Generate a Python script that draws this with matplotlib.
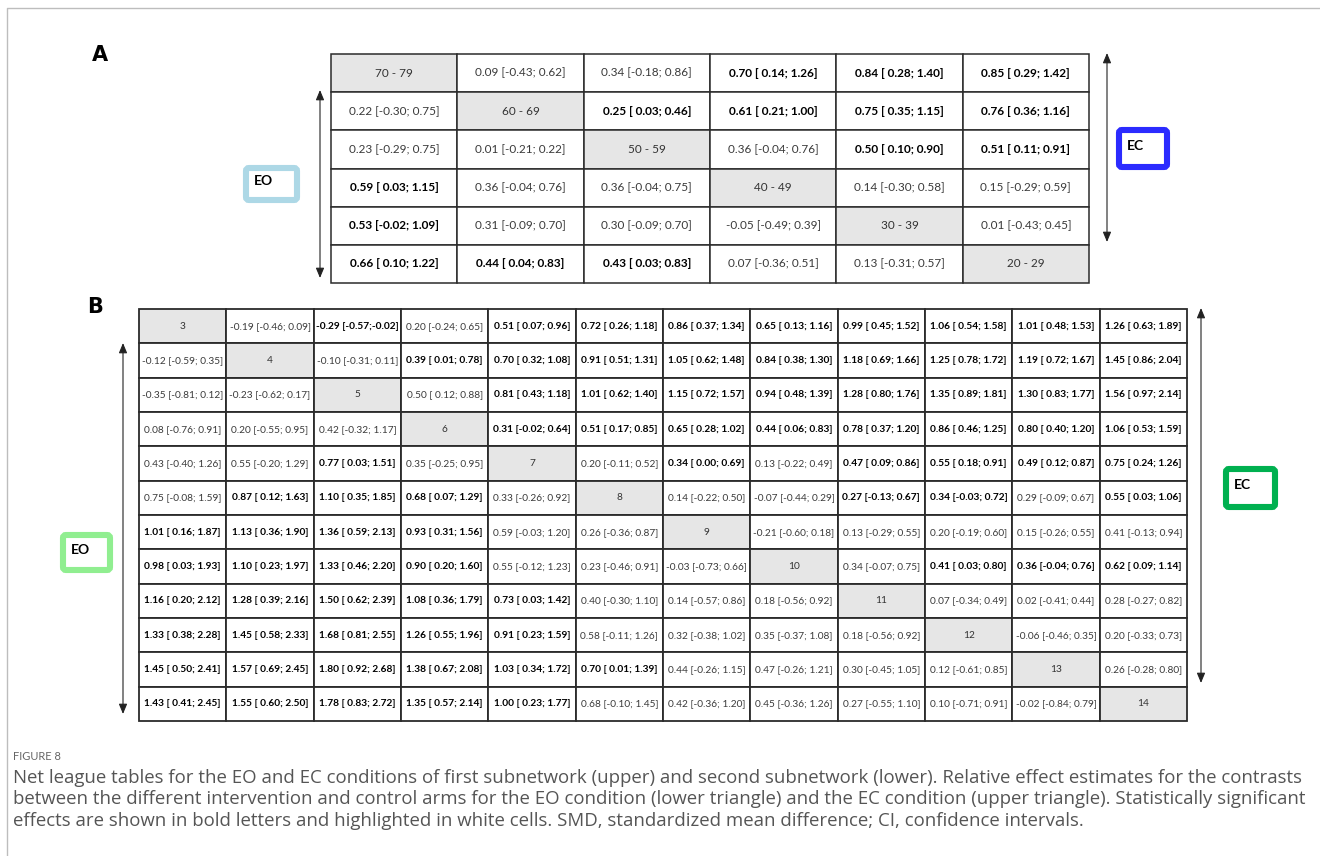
import numpy as np
import matplotlib
matplotlib.use("Agg")
import matplotlib.pyplot as plt
from matplotlib.patches import Rectangle, FancyBboxPatch

# ---- first subnetwork (age groups), EC above diagonal, EO below ----
A_LABELS = ["70 - 79", "60 - 69", "50 - 59", "40 - 49", "30 - 39", "20 - 29"]
A_EST = [
    [None, 0.09, 0.34, 0.70, 0.84, 0.85],
    [0.22, None, 0.25, 0.61, 0.75, 0.76],
    [0.23, 0.01, None, 0.36, 0.50, 0.51],
    [0.59, 0.36, 0.36, None, 0.14, 0.15],
    [0.53, 0.31, 0.30, -0.05, None, 0.01],
    [0.66, 0.44, 0.43, 0.07, 0.13, None],
]
A_LO = [
    [None, -0.43, -0.18, 0.14, 0.28, 0.29],
    [-0.30, None, 0.03, 0.21, 0.35, 0.36],
    [-0.29, -0.21, None, -0.04, 0.10, 0.11],
    [0.03, -0.04, -0.04, None, -0.30, -0.29],
    [-0.02, -0.09, -0.09, -0.49, None, -0.43],
    [0.10, 0.04, 0.03, -0.36, -0.31, None],
]
A_HI = [
    [None, 0.62, 0.86, 1.26, 1.40, 1.42],
    [0.75, None, 0.46, 1.00, 1.15, 1.16],
    [0.75, 0.22, None, 0.76, 0.90, 0.91],
    [1.15, 0.76, 0.75, None, 0.58, 0.59],
    [1.09, 0.70, 0.70, 0.39, None, 0.45],
    [1.22, 0.83, 0.83, 0.51, 0.57, None],
]
A_SIG = [
    [0, 0, 0, 1, 1, 1],
    [0, 0, 1, 1, 1, 1],
    [0, 0, 0, 0, 1, 1],
    [1, 0, 0, 0, 0, 0],
    [1, 0, 0, 0, 0, 0],
    [1, 1, 1, 0, 0, 0],
]

# ---- second subnetwork (arms 3..14) ----
B_LABELS = [str(k) for k in range(3, 15)]
B_EST = [
    [None, -0.19, -0.29, 0.20, 0.51, 0.72, 0.86, 0.65, 0.99, 1.06, 1.01, 1.26],
    [-0.12, None, -0.10, 0.39, 0.70, 0.91, 1.05, 0.84, 1.18, 1.25, 1.19, 1.45],
    [-0.35, -0.23, None, 0.50, 0.81, 1.01, 1.15, 0.94, 1.28, 1.35, 1.30, 1.56],
    [0.08, 0.20, 0.42, None, 0.31, 0.51, 0.65, 0.44, 0.78, 0.86, 0.80, 1.06],
    [0.43, 0.55, 0.77, 0.35, None, 0.20, 0.34, 0.13, 0.47, 0.55, 0.49, 0.75],
    [0.75, 0.87, 1.10, 0.68, 0.33, None, 0.14, -0.07, 0.27, 0.34, 0.29, 0.55],
    [1.01, 1.13, 1.36, 0.93, 0.59, 0.26, None, -0.21, 0.13, 0.20, 0.15, 0.41],
    [0.98, 1.10, 1.33, 0.90, 0.55, 0.23, -0.03, None, 0.34, 0.41, 0.36, 0.62],
    [1.16, 1.28, 1.50, 1.08, 0.73, 0.40, 0.14, 0.18, None, 0.07, 0.02, 0.28],
    [1.33, 1.45, 1.68, 1.26, 0.91, 0.58, 0.32, 0.35, 0.18, None, -0.06, 0.20],
    [1.45, 1.57, 1.80, 1.38, 1.03, 0.70, 0.44, 0.47, 0.30, 0.12, None, 0.26],
    [1.43, 1.55, 1.78, 1.35, 1.00, 0.68, 0.42, 0.45, 0.27, 0.10, -0.02, None],
]
B_LO = [
    [None, -0.46, -0.57, -0.24, 0.07, 0.26, 0.37, 0.13, 0.45, 0.54, 0.48, 0.63],
    [-0.59, None, -0.31, 0.01, 0.32, 0.51, 0.62, 0.38, 0.69, 0.78, 0.72, 0.86],
    [-0.81, -0.62, None, 0.12, 0.43, 0.62, 0.72, 0.48, 0.80, 0.89, 0.83, 0.97],
    [-0.76, -0.55, -0.32, None, -0.02, 0.17, 0.28, 0.06, 0.37, 0.46, 0.40, 0.53],
    [-0.40, -0.20, 0.03, -0.25, None, -0.11, 0.00, -0.22, 0.09, 0.18, 0.12, 0.24],
    [-0.08, 0.12, 0.35, 0.07, -0.26, None, -0.22, -0.44, -0.13, -0.03, -0.09, 0.03],
    [0.16, 0.36, 0.59, 0.31, -0.03, -0.36, None, -0.60, -0.29, -0.19, -0.26, -0.13],
    [0.03, 0.23, 0.46, 0.20, -0.12, -0.46, -0.73, None, -0.07, 0.03, -0.04, 0.09],
    [0.20, 0.39, 0.62, 0.36, 0.03, -0.30, -0.57, -0.56, None, -0.34, -0.41, -0.27],
    [0.38, 0.58, 0.81, 0.55, 0.23, -0.11, -0.38, -0.37, -0.56, None, -0.46, -0.33],
    [0.50, 0.69, 0.92, 0.67, 0.34, 0.01, -0.26, -0.26, -0.45, -0.61, None, -0.28],
    [0.41, 0.60, 0.83, 0.57, 0.23, -0.10, -0.36, -0.36, -0.55, -0.71, -0.84, None],
]
B_HI = [
    [None, 0.09, -0.02, 0.65, 0.96, 1.18, 1.34, 1.16, 1.52, 1.58, 1.53, 1.89],
    [0.35, None, 0.11, 0.78, 1.08, 1.31, 1.48, 1.30, 1.66, 1.72, 1.67, 2.04],
    [0.12, 0.17, None, 0.88, 1.18, 1.40, 1.57, 1.39, 1.76, 1.81, 1.77, 2.14],
    [0.91, 0.95, 1.17, None, 0.64, 0.85, 1.02, 0.83, 1.20, 1.25, 1.20, 1.59],
    [1.26, 1.29, 1.51, 0.95, None, 0.52, 0.69, 0.49, 0.86, 0.91, 0.87, 1.26],
    [1.59, 1.63, 1.85, 1.29, 0.92, None, 0.50, 0.29, 0.67, 0.72, 0.67, 1.06],
    [1.87, 1.90, 2.13, 1.56, 1.20, 0.87, None, 0.18, 0.55, 0.60, 0.55, 0.94],
    [1.93, 1.97, 2.20, 1.60, 1.23, 0.91, 0.66, None, 0.75, 0.80, 0.76, 1.14],
    [2.12, 2.16, 2.39, 1.79, 1.42, 1.10, 0.86, 0.92, None, 0.49, 0.44, 0.82],
    [2.28, 2.33, 2.55, 1.96, 1.59, 1.26, 1.02, 1.08, 0.92, None, 0.35, 0.73],
    [2.41, 2.45, 2.68, 2.08, 1.72, 1.39, 1.15, 1.21, 1.05, 0.85, None, 0.80],
    [2.45, 2.50, 2.72, 2.14, 1.77, 1.45, 1.20, 1.26, 1.10, 0.91, 0.79, None],
]
B_SIG = [
    [0, 0, 1, 0, 1, 1, 1, 1, 1, 1, 1, 1],
    [0, 0, 0, 1, 1, 1, 1, 1, 1, 1, 1, 1],
    [0, 0, 0, 0, 1, 1, 1, 1, 1, 1, 1, 1],
    [0, 0, 0, 0, 1, 1, 1, 1, 1, 1, 1, 1],
    [0, 0, 1, 0, 0, 0, 1, 0, 1, 1, 1, 1],
    [0, 1, 1, 1, 0, 0, 0, 0, 1, 1, 0, 1],
    [1, 1, 1, 1, 0, 0, 0, 0, 0, 0, 0, 0],
    [1, 1, 1, 1, 0, 0, 0, 0, 0, 1, 1, 1],
    [1, 1, 1, 1, 1, 0, 0, 0, 0, 0, 0, 0],
    [1, 1, 1, 1, 1, 0, 0, 0, 0, 0, 0, 0],
    [1, 1, 1, 1, 1, 1, 0, 0, 0, 0, 0, 0],
    [1, 1, 1, 1, 1, 0, 0, 0, 0, 0, 0, 0],
]

CAPTION_HEAD = "FIGURE 8"
CAPTION_LINES = [
    "Net league tables for the EO and EC conditions of first subnetwork (upper) and second subnetwork (lower). "
    "Relative effect estimates for the contrasts",
    "between the different intervention and control arms for the EO condition (lower triangle) and the EC "
    "condition (upper triangle). Statistically significant",
    "effects are shown in bold letters and highlighted in white cells. SMD, standardized mean difference; "
    "CI, confidence intervals.",
]

CELL_FONT = "Lato"
DIAG_FILL = "#e6e6e6"
GRID = "#2b2b2b"


def fmt_cell(est, lo, hi):
    return f"{est:.2f} [{lo:5.2f};{hi:5.2f}]"


def draw_league(ax, x0, y0, x1, y1, labels, est, lo, hi, sig, fs, lw):
    est, lo, hi = (np.array(a, dtype=float) for a in (est, lo, hi))
    n = len(labels)
    cw = (x1 - x0) / n
    ch = (y1 - y0) / n
    for i in range(n):
        for j in range(n):
            cx, cy = x0 + j * cw, y0 + i * ch
            diag = i == j
            ax.add_patch(Rectangle((cx, cy), cw, ch, facecolor=DIAG_FILL if diag else "white",
                                   edgecolor=GRID, lw=lw, zorder=1))
            if diag:
                txt, weight, col = labels[i], "normal", "#333333"
            else:
                txt = fmt_cell(est[i, j], lo[i, j], hi[i, j])
                weight = "bold" if sig[i][j] else "normal"
                col = "black" if sig[i][j] else "#3a3a3a"
            ax.text(cx + cw / 2, cy + ch / 2, txt, ha="center", va="center",
                    fontsize=fs, fontweight=weight, color=col, family=CELL_FONT, zorder=2)


def double_arrow(ax, x, ya, yb):
    ax.annotate("", xy=(x, ya), xytext=(x, yb),
                arrowprops=dict(arrowstyle="<|-|>,head_length=0.6,head_width=0.25",
                                lw=0.8, color="#222222", shrinkA=0, shrinkB=0))


def tag_box(ax, x0, y0, x1, y1, color, label):
    ax.add_patch(FancyBboxPatch((x0, y0), x1 - x0, y1 - y0,
                                boxstyle="round,pad=0,rounding_size=3",
                                facecolor="white", edgecolor=color, lw=4.4, zorder=3))
    ax.text(x0 + 8, (y0 + y1) / 2 - 3, label, ha="left", va="center", fontsize=10,
            fontweight="bold", family=CELL_FONT, color="black", zorder=4)


fig = plt.figure(figsize=(13.2, 8.56), dpi=100, facecolor="white")
ax = fig.add_axes([0, 0, 1, 1])
ax.set_xlim(0, 1320)
ax.set_ylim(856, 0)
ax.axis("off")

# outer frame
ax.plot([7, 7, 1320], [856, 8, 8], color="#bdbdbd", lw=1.0)

# panel A
ax.text(100, 55, "A", ha="center", va="center", fontsize=15, fontweight="bold",
        family="DejaVu Sans")
draw_league(ax, 331, 54, 1089, 283, A_LABELS, A_EST, A_LO, A_HI, A_SIG, fs=8.5, lw=1.1)
double_arrow(ax, 320, 90, 278)
double_arrow(ax, 1107, 53, 242)
tag_box(ax, 246, 168, 297, 200, "#add8e6", "EO")
tag_box(ax, 1119, 130, 1167, 167, "#2b2bff", "EC")

# panel B
ax.text(95, 307, "B", ha="center", va="center", fontsize=15, fontweight="bold",
        family="DejaVu Sans")
draw_league(ax, 139, 309, 1187, 721, B_LABELS, B_EST, B_LO, B_HI, B_SIG, fs=7.3, lw=1.3)
double_arrow(ax, 123, 343, 714)
double_arrow(ax, 1201, 308, 683)
tag_box(ax, 63, 535, 110, 570, "#90ee90", "EO")
tag_box(ax, 1226, 469, 1275, 507, "#00b050", "EC")

# caption
ax.text(13, 757, CAPTION_HEAD, ha="left", va="center", fontsize=8, color="#666666",
        family="Lato")
for k, line in enumerate(CAPTION_LINES):
    ax.text(13, 778 + 21.5 * k, line, ha="left", va="center", fontsize=13.4, color="#555555",
            family="Open Sans")

fig.savefig("out.png", dpi=100, facecolor="white")
